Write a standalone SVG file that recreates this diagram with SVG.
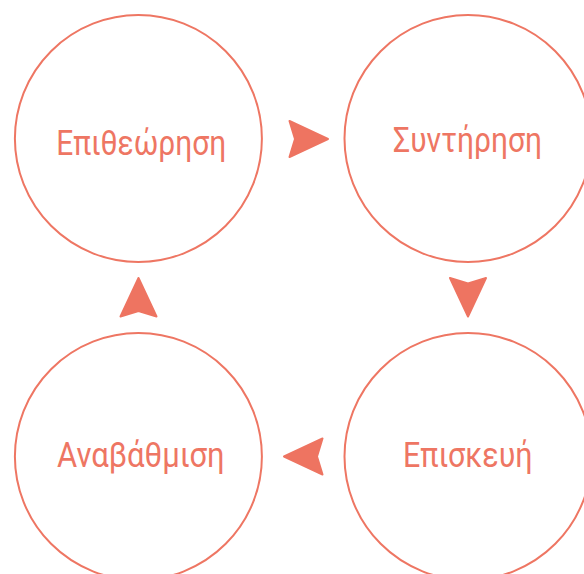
<svg xmlns="http://www.w3.org/2000/svg" width="584" height="574" viewBox="0 0 584 574">
<style>
.c{fill:none;stroke:#EE7663;stroke-width:2}
.t{font-family:Roboto,"Noto Sans",sans-serif;font-size:35px;fill:#EE7663;text-anchor:middle}
.a{fill:#EE7461;stroke:#EE7461;stroke-width:2;stroke-linejoin:round}
</style>
<rect width="584" height="574" fill="#fff"/>
<g id="n1"><circle class="c" cx="138.4" cy="138.5" r="123.5"/><text class="t" x="141.2" y="155" textLength="170" lengthAdjust="spacingAndGlyphs">Επιθεώρηση</text></g>
<g id="n2"><circle class="c" cx="468" cy="138.5" r="123.5"/><text class="t" x="467.5" y="152" textLength="149" lengthAdjust="spacingAndGlyphs">Συντήρηση</text></g>
<g id="n3"><circle class="c" cx="468" cy="456.5" r="123.5"/><text class="t" x="467.8" y="467.3" textLength="129.6" lengthAdjust="spacingAndGlyphs">Επισκευή</text></g>
<g id="n4"><circle class="c" cx="138.4" cy="456.5" r="123.5"/><text class="t" x="140.8" y="467" textLength="167.6" lengthAdjust="spacingAndGlyphs">Αναβάθμιση</text></g>
<g id="connectors">
<path class="a" d="M328,139 L289.5,121 L295,139 L289.5,157 Z"/>
<path class="a" d="M468,316.5 L450,278 L468,283.5 L486,278 Z"/>
<path class="a" d="M284,456.5 L322.5,438.5 L317,456.5 L322.5,474.5 Z"/>
<path class="a" d="M138.5,278 L120.5,316.5 L138.5,311 L156.5,316.5 Z"/>
</g>
</svg>
